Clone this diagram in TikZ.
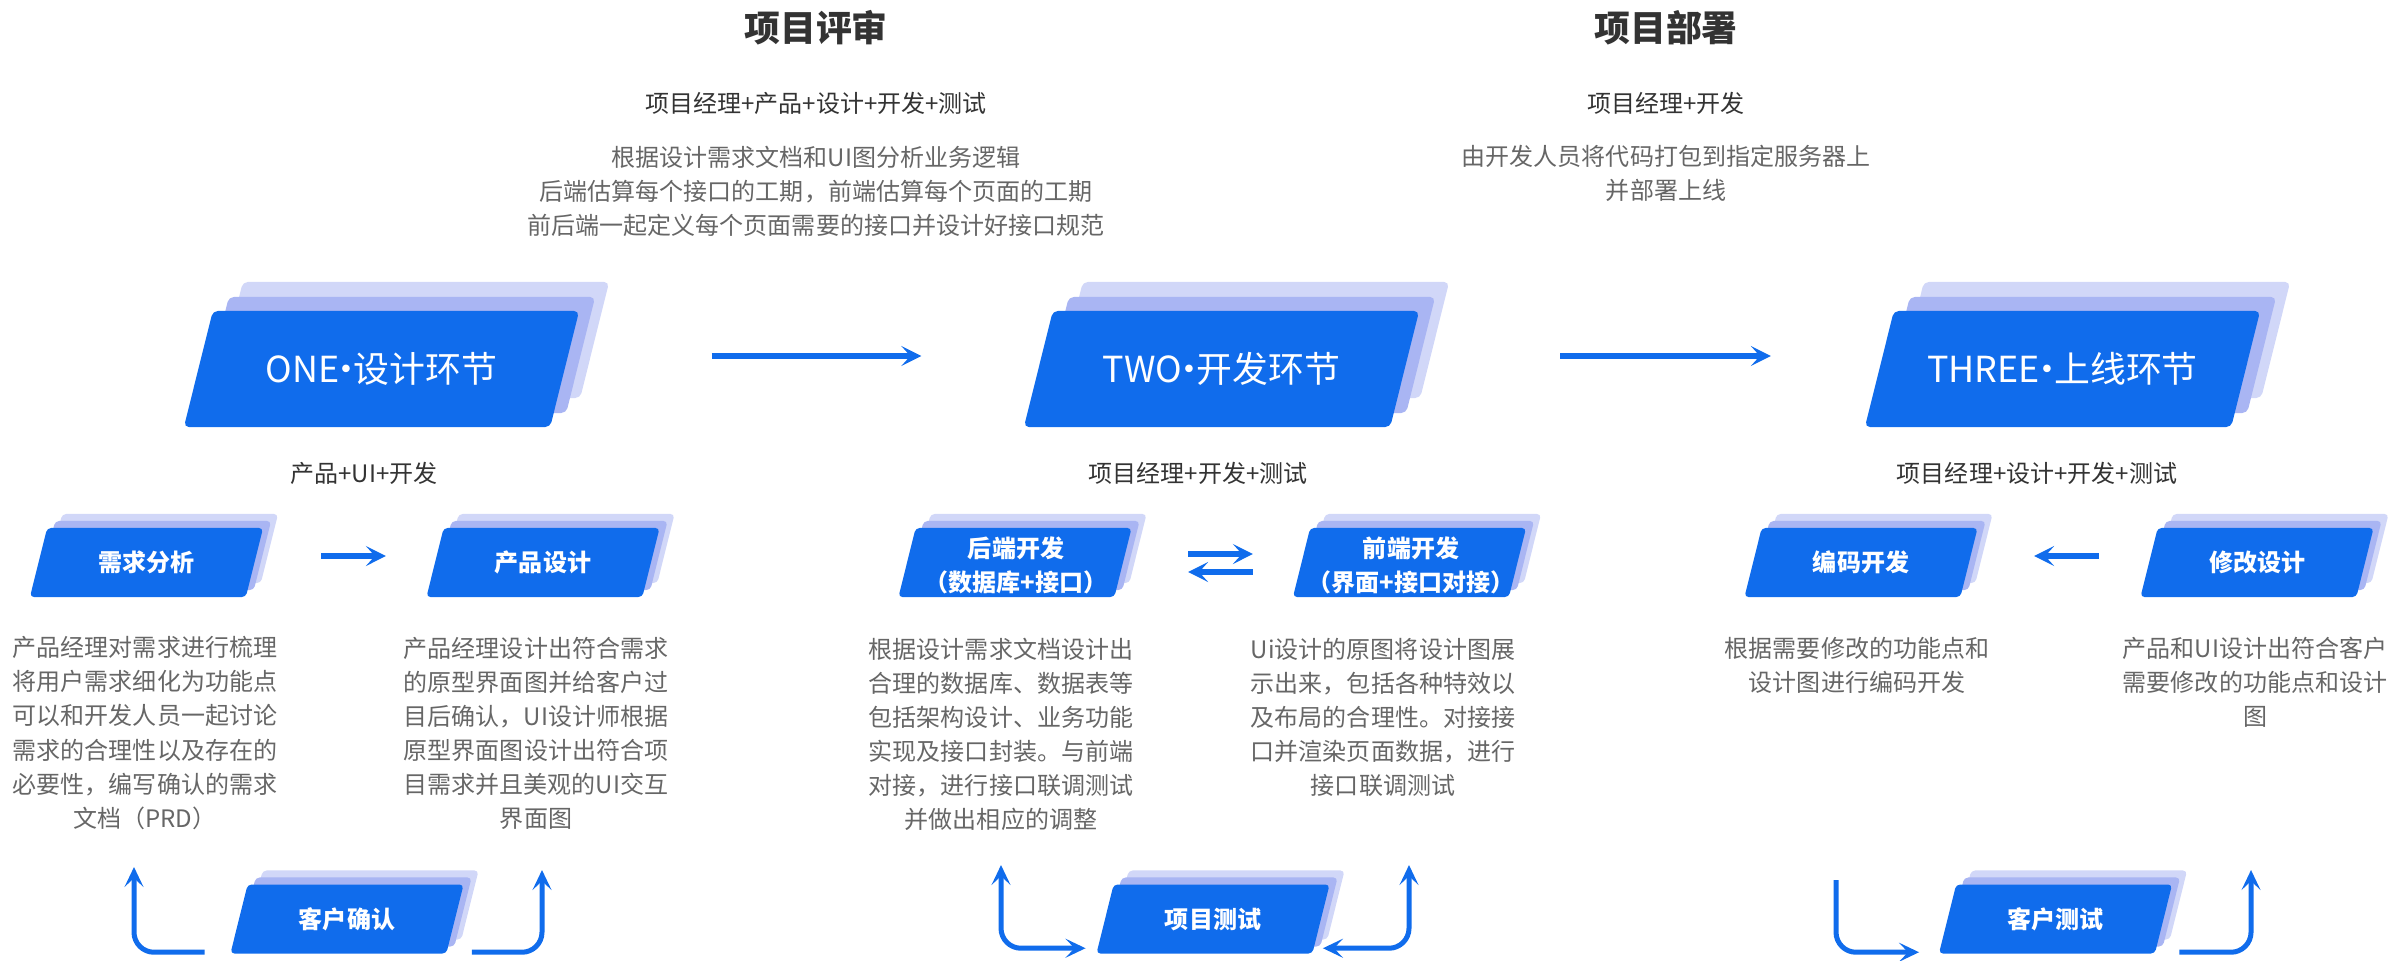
\documentclass[tikz,border=0pt]{standalone}
\usepackage{fontspec}
\setmainfont{Noto Sans CJK SC}
\usepackage{tikz}
\usetikzlibrary{shapes.geometric,shadows,arrows.meta}

\definecolor{stageblue}{HTML}{106CEC}
\definecolor{layermid}{HTML}{A9B5F3}
\definecolor{layerback}{HTML}{D1D7F8}
\definecolor{notegray}{HTML}{666666}
\definecolor{headgray}{HTML}{333333}

\newcommand{\notesize}{\fontsize{6.83pt}{9.68pt}\selectfont}
\newcommand{\stagesize}{\fontsize{10.2pt}{12pt}\selectfont}
\newcommand{\middot}{\kern-0.3em·\kern-0.3em}

\tikzset{
	stagebox/.style={trapezium, trapezium left angle=76, trapezium right angle=104, trapezium stretches body=true,
		minimum width=3.95cm, text height=0.716cm, text depth=0.444cm, inner sep=0pt, fill=stageblue, rounded corners=0.05cm,
		text=white, font=\stagesize,
		general shadow={fill=layerback, shadow xshift=0.3cm, shadow yshift=0.29cm},
		general shadow={fill=layermid, shadow xshift=0.16cm, shadow yshift=0.14cm}},
	taskbox/.style={trapezium, trapezium left angle=76, trapezium right angle=104, trapezium stretches body=true,
		minimum width=2.33cm, text height=0.436cm, text depth=0.254cm, inner sep=0pt, fill=stageblue, rounded corners=0.04cm,
		text=white, font=\notesize\bfseries,
		general shadow={fill=layerback, shadow xshift=0.15cm, shadow yshift=0.14cm},
		general shadow={fill=layermid, shadow xshift=0.08cm, shadow yshift=0.07cm}},
	tasktext/.style={text=white, font=\notesize\bfseries, align=center, inner sep=0pt},
	notetext/.style={text=notegray, font=\notesize, align=center, inner sep=0pt},
	crewtext/.style={text=headgray, font=\notesize, inner sep=0pt},
	phasetext/.style={text=headgray, font=\stagesize\bfseries, inner sep=0pt},
	flowarrow/.style={draw=stageblue, line width=0.06cm, -{Stealth[length=0.2cm, width=0.2cm, inset=0.09cm]}},
	roundtrip/.style={draw=stageblue, line width=0.05cm, rounded corners=0.2cm, -{Stealth[length=0.2cm, width=0.19cm, inset=0.09cm]}},
	twoway/.style={{Stealth[length=0.2cm, width=0.19cm, inset=0.09cm]}-{Stealth[length=0.2cm, width=0.19cm, inset=0.09cm]}}
}

\begin{document}
\begin{tikzpicture}[x=0.01cm, y=-0.01cm]
	\useasboundingbox (0,0) rectangle (2401,960);

	\node[phasetext] (p1) at (816,28) {项目评审};
	\node[crewtext] (r1) at (816,103) {项目经理+产品+设计+开发+测试};
	\node[notetext] (n1) at (816,191) {根据设计需求文档和UI图分析业务逻辑\\后端估算每个接口的工期，前端估算每个页面的工期\\前后端一起定义每个页面需要的接口并设计好接口规范};

	\node[phasetext] (p2) at (1666,28) {项目部署};
	\node[crewtext] (r2) at (1666,103) {项目经理+开发};
	\node[notetext] (n2) at (1666,173.5) {由开发人员将代码打包到指定服务器上\\并部署上线};

	\node[stagebox] (one) at (381.5,369) {ONE\middot 设计环节};
	\node[stagebox] (two) at (1221.5,369) {TWO\middot 开发环节};
	\node[stagebox] (three) at (2062.5,369) {THREE\middot 上线环节};

	\draw[flowarrow, shorten <=3.3cm, shorten >=3cm] ([yshift=0.13cm]one.center) -- ([yshift=0.13cm]two.center);
	\draw[flowarrow, shorten <=3.385cm, shorten >=2.915cm] ([yshift=0.13cm]two.center) -- ([yshift=0.13cm]three.center);

	\node[crewtext] (w1) at (364,473) {产品+UI+开发};
	\node[crewtext] (w2) at (1198,473) {项目经理+开发+测试};
	\node[crewtext] (w3) at (2037,473) {项目经理+设计+开发+测试};

	\node[taskbox] (req) at (146.5,562.5) {需求分析};
	\node[taskbox] (prd) at (543,562.5) {产品设计};
	\node[taskbox] (be) at (1015,562.5) {};
	\node[tasktext] (bet) at (1016,565) {后端开发\\（数据库+接口）};
	\node[taskbox] (fe) at (1409.5,562.5) {};
	\node[tasktext] (fet) at (1411,565) {前端开发\\（界面+接口对接）};
	\node[taskbox] (code) at (1861,562.5) {编码开发};
	\node[taskbox] (mod) at (2257,562.5) {修改设计};

	\draw[flowarrow, shorten <=1.745cm, shorten >=1.57cm] ([yshift=0.065cm]req.center) -- ([yshift=0.065cm]prd.center);
	\draw[flowarrow, shorten <=1.73cm, shorten >=1.565cm] ([yshift=0.085cm]be.center) -- ([yshift=0.085cm]fe.center);
	\draw[flowarrow, shorten <=1.565cm, shorten >=1.73cm] ([yshift=-0.095cm]fe.center) -- ([yshift=-0.095cm]be.center);
	\draw[flowarrow, shorten <=1.58cm, shorten >=1.73cm] ([yshift=0.065cm]mod.center) -- ([yshift=0.065cm]code.center);

	\node[notetext] (t1) at (145,733) {产品经理对需求进行梳理\\将用户需求细化为功能点\\可以和开发人员一起讨论\\需求的合理性以及存在的\\必要性，编写确认的需求\\文档（PRD）};
	\node[notetext] (t2) at (536,733) {产品经理设计出符合需求\\的原型界面图并给客户过\\目后确认，UI设计师根据\\原型界面图设计出符合项\\目需求并且美观的UI交互\\界面图};
	\node[notetext] (t3) at (1001,734.5) {根据设计需求文档设计出\\合理的数据库、数据表等\\包括架构设计、业务功能\\实现及接口封装。与前端\\对接，进行接口联调测试\\并做出相应的调整};
	\node[notetext] (t4) at (1383,717.5) {Ui设计的原图将设计图展\\示出来，包括各种特效以\\及布局的合理性。对接接\\口并渲染页面数据，进行\\接口联调测试};
	\node[notetext] (t5) at (1857,665.5) {根据需要修改的功能点和\\设计图进行编码开发};
	\node[notetext] (t6) at (2255,682.5) {产品和UI设计出符合客户\\需要修改的功能点和设计\\图};

	\node[taskbox] (conf) at (347,919) {客户确认};
	\node[taskbox] (qa) at (1213,919) {项目测试};
	\node[taskbox] (ct) at (2055.5,919) {客户测试};

	\coordinate (c1) at (134,867);
	\coordinate (c2) at (542,870);
	\coordinate (c3) at (1001,865);
	\coordinate (c4) at (1409,865);
	\coordinate (c5) at (1836,880);
	\coordinate (c6) at (2251,870);

	\draw[roundtrip] ([xshift=-0.25cm, yshift=0.02cm]conf.bottom left corner) -| (c1);
	\draw[roundtrip] ([xshift=0.25cm, yshift=0.02cm]conf.bottom right corner) -| (c2);
	\draw[roundtrip, twoway] (c3) |- ([xshift=-0.1cm, yshift=0.06cm]qa.bottom left corner);
	\draw[roundtrip, twoway] (c4) |- ([xshift=0.1cm, yshift=0.06cm]qa.bottom right corner);
	\draw[roundtrip] (c5) |- ([xshift=-0.19cm, yshift=0.02cm]ct.bottom left corner);
	\draw[roundtrip] ([xshift=0.24cm, yshift=0.02cm]ct.bottom right corner) -| (c6);
\end{tikzpicture}
\end{document}
